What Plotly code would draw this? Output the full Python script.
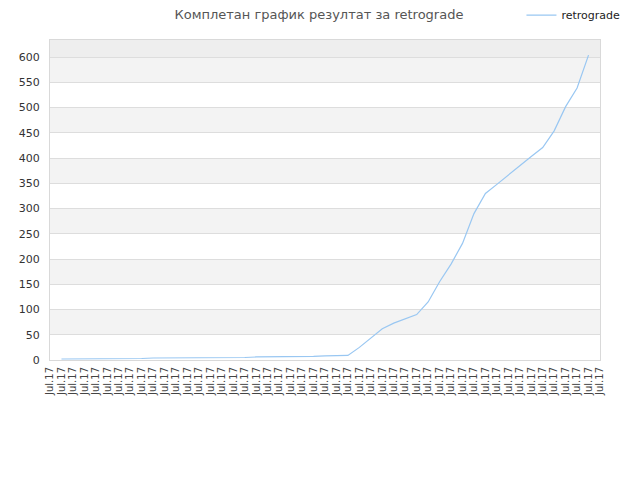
import plotly.graph_objects as go

# ---------------------------------------------------------------------------
# Data
# ---------------------------------------------------------------------------
x_labels = ["Jul.17"] * 49
x_index = list(range(49))

retrograde = [
    None,
    2, 2, 2, 2, 3, 3, 3, 3, 4, 4,
    4, 4, 5, 5, 5, 5, 5, 6, 6, 6,
    7, 7, 7, 8, 8, 9, 25, 43, 62, 73,
    81, 90, 115, 155, 190, 231, 290, 330, 348, 367,
    385, 403, 421, 454, 502, 539, 604,
    None,
]

y_ticks = list(range(0, 601, 50))
y_max = 634

line_color = "#99c7f2"

fig = go.Figure()
fig.add_trace(go.Scatter(
    x=x_index, y=retrograde, mode="lines", name="retrograde",
    line=dict(color=line_color, width=1.2),
    connectgaps=False,
))

# alternating background bands like the original chart
band_edges = y_ticks + [y_max]
for k in range(len(band_edges) - 1):
    if k == len(band_edges) - 2:
        fill = "#eeeeee"
    elif k % 2 == 1:
        fill = "#f3f3f3"
    else:
        fill = "#ffffff"
    fig.add_shape(type="rect", xref="paper", yref="y", x0=0, x1=1,
                  y0=band_edges[k], y1=band_edges[k + 1],
                  fillcolor=fill, line=dict(width=0), layer="below")

# page body adds an 8px offset, so the figure is a bit smaller than 640x480
fig.update_layout(
    width=632, height=472,
    margin=dict(l=42, r=40, t=32, b=120, autoexpand=False),
    paper_bgcolor="white", plot_bgcolor="white",
    font=dict(family="DejaVu Sans", size=11, color="#333333"),
    title=dict(text="Комплетан график резултат за retrograde",
               xref="container", yref="container",
               x=0.492, xanchor="center", y=0.986, yanchor="middle",
               pad=dict(t=0, b=0, l=0, r=0),
               font=dict(size=13, color="#555555")),
    showlegend=True,
    legend=dict(xref="container", yref="container",
                x=0.977, xanchor="right", y=0.985, yanchor="middle",
                bgcolor="rgba(0,0,0,0)", font=dict(size=11, color="#222222"),
                itemwidth=30),
)

fig.update_xaxes(
    range=[0, 48], tickmode="array", tickvals=x_index, ticktext=x_labels,
    tickangle=-90, tickfont=dict(size=10, color="#444444"),
    showgrid=False, zeroline=False, automargin=False,
    showline=True, linecolor="#d9d9d9", linewidth=1, mirror=True,
    ticks="outside", ticklen=2, tickcolor="rgba(0,0,0,0)",
)
fig.update_yaxes(
    range=[0, y_max], tickmode="array", tickvals=y_ticks,
    tickfont=dict(size=11, color="#333333"),
    showgrid=True, gridcolor="#dddddd", gridwidth=1, zeroline=False,
    automargin=False,
    showline=True, linecolor="#d9d9d9", linewidth=1, mirror=True,
    ticks="outside", ticklen=7, tickcolor="rgba(0,0,0,0)",
)

fig.write_html("out.html")
